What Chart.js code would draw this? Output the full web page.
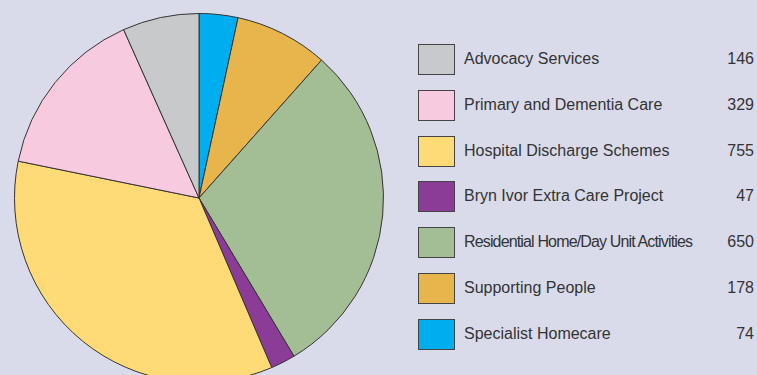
<!DOCTYPE html>
<html>
<head>
<meta charset="utf-8">
<script src="https://cdn.jsdelivr.net/npm/chart.js@4.4.0/dist/chart.umd.min.js"></script>
<style>
  html, body { margin: 0; padding: 0; }
  body { width: 757px; height: 375px; overflow: hidden; background: #dadbea; position: relative;
         font-family: "Liberation Sans", Arial, sans-serif; }
  #pieBox { position: absolute; left: 14px; top: 13px; width: 370px; height: 370px; }
  #leyenda { position: absolute; left: 418px; top: 44px; width: 336px; }
  .fila { position: relative; height: 45.8px; }
  .caja { position: absolute; left: 0; top: 0; width: 35px; height: 29px; border: 1px solid #444; }
  .nombre { position: absolute; left: 46px; top: 6px; font-size: 16px; color: #333; white-space: nowrap; }
  .valor { position: absolute; right: 0; top: 6px; font-size: 16px; color: #333; }
</style>
</head>
<body>
<div id="pieBox"><canvas id="graficoPastel"></canvas></div>
<div id="leyenda"></div>
<script>
// legend order (top to bottom)
var categorias = ['Advocacy Services', 'Primary and Dementia Care', 'Hospital Discharge Schemes',
  'Bryn Ivor Extra Care Project', 'Residential Home/Day Unit Activities', 'Supporting People', 'Specialist Homecare'];
var valores = [146, 329, 755, 47, 650, 178, 74];
var colores = ['#c8c9cb', '#f7cadf', '#ffdb78', '#8b3c96', '#a3be95', '#e8b54c', '#00aeef'];

document.addEventListener('DOMContentLoaded', function(){
  fntLeyenda();
  fntGraficoPastel();
});

function fntLeyenda(){
  var cont = document.getElementById('leyenda');
  for (var i = 0; i < categorias.length; i++) {
    var fila = document.createElement('div');
    fila.className = 'fila';
    var caja = document.createElement('div');
    caja.className = 'caja';
    caja.style.background = colores[i];
    var nombre = document.createElement('div');
    nombre.className = 'nombre';
    nombre.textContent = categorias[i];
    var valor = document.createElement('div');
    valor.className = 'valor';
    valor.textContent = valores[i];
    fila.appendChild(caja);
    fila.appendChild(nombre);
    fila.appendChild(valor);
    cont.appendChild(fila);
    // the long label is squeezed in the original
    if (nombre.offsetWidth > 240) {
      nombre.style.letterSpacing = '-0.85px';
    }
  }
}

function fntGraficoPastel(){
  // slices run clockwise from 12 o'clock in reverse legend order
  var etiquetas = categorias.slice().reverse();
  var datos = valores.slice().reverse();
  var fondos = colores.slice().reverse();
  const ctx = document.getElementById('graficoPastel').getContext('2d');
  const myChart = new Chart(ctx, {
    type: 'pie',
    data: {
      labels: etiquetas,
      datasets: [{
        data: datos,
        backgroundColor: fondos,
        borderColor: '#333333',
        borderWidth: 1
      }]
    },
    options: {
      responsive: true,
      maintainAspectRatio: false,
      animation: false,
      layout: { padding: 0 },
      plugins: {
        legend: { display: false },
        tooltip: { enabled: false }
      }
    }
  });
}
</script>
</body>
</html>
